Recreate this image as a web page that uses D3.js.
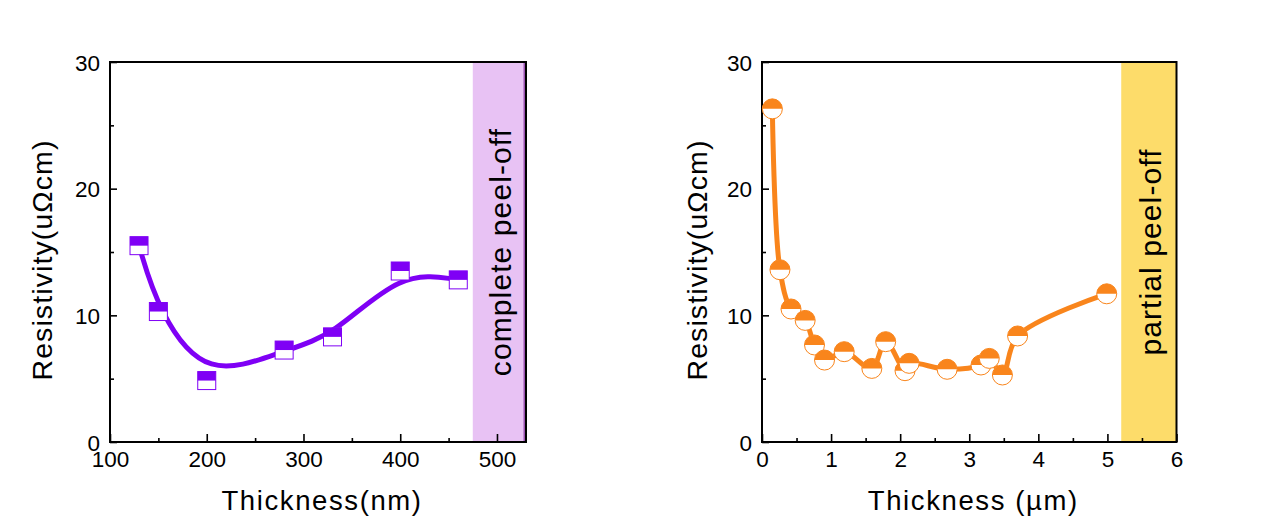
<!DOCTYPE html>
<html>
<head>
<meta charset="utf-8">
<script src="https://cdn.jsdelivr.net/npm/d3@7"></script>
<style>
  html, body { margin: 0; padding: 0; background: #fff; }
  svg text { font-family: "Liberation Sans", Arial, sans-serif; fill: #000; }
</style>
</head>
<body>
<div id="chart"></div>
<script>
// ---------- DATA ----------
const leftThickness = [130, 150, 200, 280, 330, 400, 460];           // nm
const leftResistivity = [15.5, 10.3, 4.85, 7.26, 8.3, 13.5, 12.8];     // uΩcm
const leftXTicks = [100, 200, 300, 400, 500];
const leftXMinor = [150, 250, 350, 450];
const leftBand = [475, 530];
const leftBandLabel = "complete peel-off";

const rightThickness = [0.15, 0.26, 0.42, 0.625, 0.76, 0.905, 1.19, 1.59, 1.79, 2.07, 2.13, 2.68, 3.17, 3.29, 3.48, 3.70, 4.99]; // µm
const rightResistivity = [26.3, 13.6, 10.5, 9.6, 7.66, 6.47, 7.13, 5.81, 7.92, 5.63, 6.21, 5.74, 6.08, 6.6, 5.29, 8.37, 11.7];
const rightXTicks = [0, 1, 2, 3, 4, 5, 6];
const rightXMinor = [0.5, 1.5, 2.5, 3.5, 4.5, 5.5];
const rightBand = [5.2, 6];
const rightBandLabel = "partial peel-off";

const yTicks = [0, 10, 20, 30];
const yMinor = [5, 15, 25];
const yTitle = "Resistivity(uΩcm)";
const leftXTitle = "Thickness(nm)";
const rightXTitle = "Thickness (µm)";

// ---------- DRAW ----------
const W = 1263, H = 532;
const svg = d3.select("#chart").append("svg").attr("width", W).attr("height", H);
svg.append("rect").attr("width", W).attr("height", H).attr("fill", "#fff");

function panel(opts) {
  const { x, y } = opts;
  const g = svg.append("g");
  const [x0, x1] = x.range();
  const [y0, y1] = y.range();

  // band
  g.append("rect")
    .attr("x", x(opts.band[0])).attr("y", y1)
    .attr("width", x(opts.band[1]) - x(opts.band[0]))
    .attr("height", y0 - y1)
    .attr("fill", opts.bandColor);
  if (opts.bandEdge) {
    g.append("line").attr("x1", x(opts.band[1]) - 1.5).attr("x2", x(opts.band[1]) - 1.5)
      .attr("y1", y1).attr("y2", y0).attr("stroke", opts.bandEdge).attr("stroke-width", 2);
  }
  const bx = (x(opts.band[0]) + x(opts.band[1])) / 2;
  g.append("text")
    .attr("transform", `translate(${bx + 12},${(y0 + y1) / 2}) rotate(-90)`)
    .attr("text-anchor", "middle")
    .style("font-size", "30px").style("letter-spacing", "1.1px")
    .text(opts.bandLabel);

  // axes
  const ax = g.append("g").attr("transform", `translate(0,${y0})`)
    .call(d3.axisBottom(x).tickValues(opts.xTicks).tickSizeInner(-8).tickSizeOuter(0).tickPadding(9).tickFormat(d3.format("d")));
  const axm = g.append("g").attr("transform", `translate(0,${y0})`)
    .call(d3.axisBottom(x).tickValues(opts.xMinor).tickSizeInner(-4).tickSizeOuter(0).tickFormat(""));
  const ay = g.append("g").attr("transform", `translate(${x0},0)`)
    .call(d3.axisLeft(y).tickValues(yTicks).tickSizeInner(-7).tickSizeOuter(0).tickPadding(10));
  const aym = g.append("g").attr("transform", `translate(${x0},0)`)
    .call(d3.axisLeft(y).tickValues(yMinor).tickSizeInner(-4).tickSizeOuter(0).tickFormat(""));
  [ax, axm, ay, aym].forEach(a => {
    a.select(".domain").remove();
    a.selectAll(".tick line").attr("stroke", "#000").attr("stroke-width", 1.6);
    a.selectAll(".tick text").style("font-size", "22.5px").style("font-family", "Liberation Sans, Arial, sans-serif").attr("fill", "#000");
  });
  ay.selectAll(".tick text").attr("dy", "0.36em");

  // frame
  g.append("rect").attr("x", x0).attr("y", y1).attr("width", x1 - x0).attr("height", y0 - y1)
    .attr("fill", "none").attr("stroke", "#000").attr("stroke-width", 2);

  // titles
  g.append("text").attr("x", (x0 + x1) / 2 + 4).attr("y", y0 + 68)
    .attr("text-anchor", "middle").style("font-size", "27.5px").style("letter-spacing", "1.6px")
    .text(opts.xTitle);
  g.append("text")
    .attr("transform", `translate(${x0 - opts.yTitleOff},${(y0 + y1) / 2 + 8}) rotate(-90)`)
    .attr("text-anchor", "middle").style("font-size", "28.5px").style("letter-spacing", "1.1px")
    .text(yTitle);

  // line
  const line = d3.line().x(d => x(d[0])).y(d => y(d[1])).curve(opts.curve);
  const pts = opts.xs.map((v, i) => [v, opts.ys[i]]);
  g.append("path").datum(pts).attr("d", line)
    .attr("fill", "none").attr("stroke", opts.color).attr("stroke-width", 5)
    .attr("stroke-linejoin", "round").attr("stroke-linecap", "round");

  // markers
  const m = g.selectAll("g.mk").data(pts).join("g").attr("class", "mk")
    .attr("transform", d => `translate(${x(d[0])},${y(d[1])})`);
  if (opts.marker === "square") {
    const s = 18;
    m.append("rect").attr("x", -s / 2).attr("y", -s / 2).attr("width", s).attr("height", s)
      .attr("fill", "#fff").attr("stroke", opts.color).attr("stroke-width", 1);
    m.append("rect").attr("x", -s / 2).attr("y", -s / 2).attr("width", s).attr("height", s / 2)
      .attr("fill", opts.color);
  } else {
    const r = 10;
    m.append("circle").attr("r", r).attr("fill", "#fff").attr("stroke", opts.color).attr("stroke-width", 1);
    m.append("path").attr("d", `M${-r},0 A${r},${r} 0 0 1 ${r},0 Z`).attr("fill", opts.color);
  }
}

const yL = d3.scaleLinear().domain([0, 30]).range([442, 62]);
panel({
  x: d3.scaleLinear().domain([100, 530]).range([110, 526]),
  y: yL,
  xs: leftThickness, ys: leftResistivity,
  xTicks: leftXTicks, xMinor: leftXMinor,
  band: leftBand, bandColor: "#e8c2f4", bandEdge: "#9a50b0", bandLabel: leftBandLabel,
  xTitle: leftXTitle, yTitleOff: 58,
  color: "#7f00f5", marker: "square",
  curve: d3.curveBasis
});

const yR = d3.scaleLinear().domain([0, 30]).range([442, 62]);
panel({
  x: d3.scaleLinear().domain([0, 6]).range([762, 1176.5]),
  y: yR,
  xs: rightThickness, ys: rightResistivity,
  xTicks: rightXTicks, xMinor: rightXMinor,
  band: rightBand, bandColor: "#fddc6a", bandEdge: null, bandLabel: rightBandLabel,
  xTitle: rightXTitle, yTitleOff: 55,
  color: "#f9851c", marker: "circle",
  curve: d3.curveCatmullRom.alpha(0.5)
});
</script>
</body>
</html>
